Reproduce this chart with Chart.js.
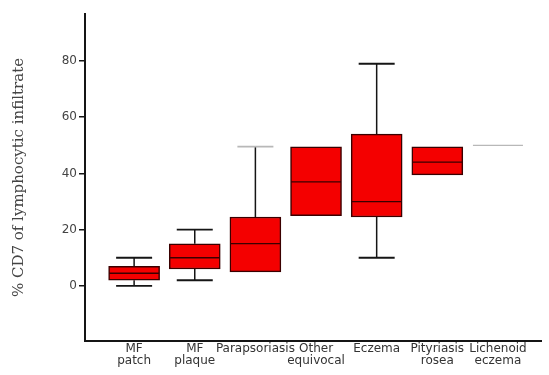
<!DOCTYPE html>
<html>
<head>
<meta charset="utf-8">
<script src="https://cdn.jsdelivr.net/npm/chart.js@4"></script>
<style>
  html, body { margin: 0; padding: 0; background: #fff; }
  #wrap { width: 549px; height: 375px; }
</style>
</head>
<body>
<div id="wrap"><canvas id="boxChart" width="549" height="375"></canvas></div>
<script>
const categories = [['MF', 'patch'], ['MF', 'plaque'], 'Parapsoriasis', ['Other', 'equivocal'], 'Eczema', ['Pityriasis', 'rosea'], ['Lichenoid', 'eczema']];
const mins    = [0,   2,  5,    25,   10,   39.5, 50];
const q1s     = [2,   6,  5,    25,   24.5, 39.5, 50];
const medians = [4.5, 10, 15,   37,   30,   44,   50];
const q3s     = [7,   15, 24.5, 49.5, 54,   49.5, 50];
const maxs    = [10,  20, 49.5, 49.5, 79,   49.5, 50];
const yTicks  = [0, 20, 40, 60, 80];

// boxes (skip the flat one, it is drawn by its median line)
const boxPts = [];
categories.forEach((c, i) => {
  if (q3s[i] > q1s[i]) boxPts.push({ x: i, y: [q1s[i], q3s[i]] });
});

// whisker stems, broken by null points
const stemPts = [];
const capPts = [];
categories.forEach((c, i) => {
  if (maxs[i] > q3s[i]) {
    stemPts.push({ x: i, y: q3s[i] }, { x: i, y: maxs[i] }, { x: i, y: null });
    capPts.push({ x: i, y: maxs[i] });
  }
  if (mins[i] < q1s[i]) {
    stemPts.push({ x: i, y: mins[i] }, { x: i, y: q1s[i] }, { x: i, y: null });
    capPts.push({ x: i, y: mins[i] });
  }
});

const medianPts = categories.map((c, i) => ({ x: i, y: medians[i] }));

const ink = '#151515';
const faint = '#b8b8b8';
const boxRed = '#f40000';

new Chart(document.getElementById('boxChart'), {
  type: 'bar',
  data: {
    datasets: [
      {
        type: 'line',
        data: stemPts,
        borderColor: ink,
        borderWidth: 1.5,
        pointRadius: 0,
        spanGaps: false,
        order: 3
      },
      {
        type: 'bar',
        data: boxPts,
        backgroundColor: boxRed,
        borderColor: '#3a0000',
        borderWidth: 1.5,
        borderSkipped: false,
        barThickness: 51,
        order: 2
      },
      {
        type: 'line',
        data: capPts,
        showLine: false,
        pointStyle: 'line',
        pointRadius: 18,
        pointBorderWidth: 1.8,
        pointBorderColor: ctx => (ctx.raw && ctx.raw.x === 2 && ctx.raw.y === maxs[2]) ? faint : ink,
        order: 1
      },
      {
        type: 'line',
        data: medianPts,
        showLine: false,
        pointStyle: 'line',
        pointRadius: 25,
        pointBorderWidth: 1.3,
        pointBorderColor: ctx => {
          const i = ctx.raw ? ctx.raw.x : 0;
          return q3s[i] > q1s[i] ? '#3a0000' : faint;
        },
        order: 0
      }
    ]
  },
  options: {
    responsive: false,
    animation: false,
    layout: { autoPadding: false, padding: { left: 8, top: 14, right: 8, bottom: 0 } },
    plugins: {
      legend: { display: false },
      tooltip: { enabled: false }
    },
    scales: {
      x: {
        type: 'linear',
        offset: false,
        min: -0.81,
        max: 6.71,
        afterBuildTicks: axis => { axis.ticks = categories.map((c, i) => ({ value: i })); },
        afterFit: axis => { axis.height = 34; axis.paddingLeft = 0; axis.paddingRight = 0; },
        grid: { display: false, drawTicks: false, offset: false },
        border: { display: true, color: ink, width: 2 },
        ticks: {
          autoSkip: false,
          maxRotation: 0,
          minRotation: 0,
          padding: 2,
          color: '#333',
          font: { family: 'DejaVu Sans', size: 12, lineHeight: 1.0 },
          callback: v => categories[v]
        }
      },
      y: {
        min: -19.6,
        max: 96.7,
        afterBuildTicks: axis => { axis.ticks = yTicks.map(v => ({ value: v })); },
        afterFit: axis => { axis.width = 77; },
        grid: { display: true, drawOnChartArea: false, drawTicks: true, tickLength: 6, color: ink, lineWidth: 1.5 },
        border: { display: true, color: ink, width: 2 },
        ticks: {
          padding: 2,
          color: '#444',
          font: { family: 'DejaVu Sans', size: 12 }
        },
        title: {
          display: true,
          text: '% CD7 of lymphocytic infiltrate',
          color: '#444',
          padding: { top: 4, bottom: 4 },
          font: { family: 'DejaVu Serif', size: 15, lineHeight: 1.0 }
        }
      }
    }
  }
});
</script>
</body>
</html>
